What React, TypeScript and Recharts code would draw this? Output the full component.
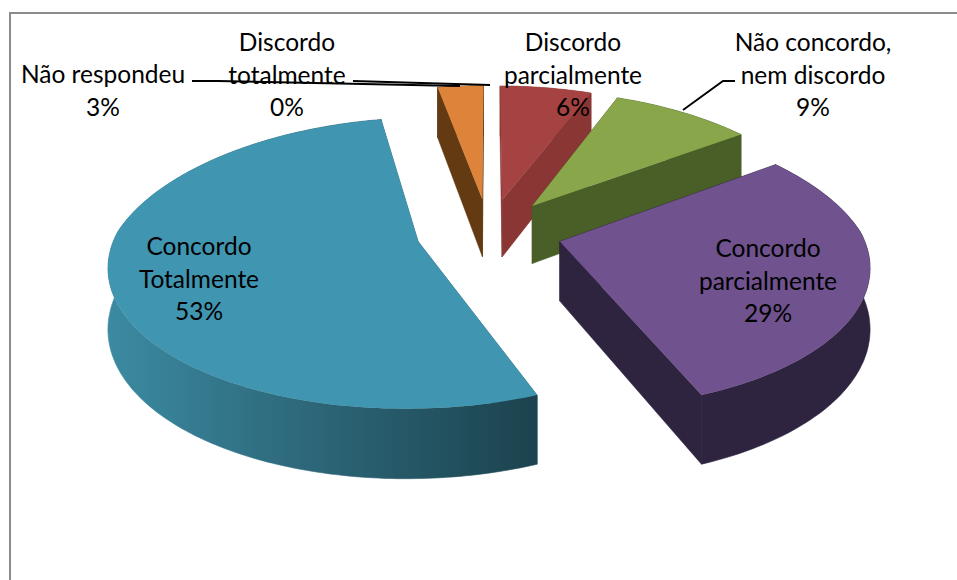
import { PieChart, Pie } from 'recharts';

const categories = [
  'Discordo totalmente',
  'Discordo parcialmente',
  'Não concordo, nem discordo',
  'Concordo parcialmente',
  'Concordo Totalmente',
  'Não respondeu',
];
const percentages = [0, 6, 9, 29, 53, 3];
const topColors = ['#4f81bd', '#a44341', '#8aa64a', '#6f528e', '#4095b0', '#dd843a'];
const sideColors = ['#2f4d71', '#8a3634', '#4a5e27', '#2e2440', '#2f6c7f', '#633a12'];

// where each label sits: centre x, baseline of the first line, and its wrapped lines
const labelLayout = [
  { x: 287, y: 51, lines: ['Discordo', 'totalmente'] },
  { x: 573, y: 51, lines: ['Discordo', 'parcialmente'] },
  { x: 813, y: 51, lines: ['Não concordo,', 'nem discordo'] },
  { x: 768, y: 257, lines: ['Concordo', 'parcialmente'] },
  { x: 199, y: 255, lines: ['Concordo', 'Totalmente'] },
  { x: 103, y: 83, lines: ['Não respondeu'] },
];
const leaderLines = [
  '353,81 490,85',
  '',
  '735,81 723,81 683,110',
  '',
  '',
  '192,81 218,81 460,86',
];

const chartData = categories.map((name, i) => ({ name, value: percentages[i] }));

// ground-plane perspective used for the tilted pie
const CX = 489;
const CY = 232;
const RADIUS = 302;
const EXPLODE = 73;
const DEPTH = 59;
const CAMERA = 2050;
const HORIZON = -715;
const BACK_SQUEEZE = 0.00012;

const rad = (deg: number) => (deg * Math.PI) / 180;

function project(gx: number, gy: number, drop = 0) {
  const s = CAMERA / (CAMERA + gy);
  const narrow = 1 - BACK_SQUEEZE * Math.max(gy, 0);
  return `${(CX + gx * s * narrow).toFixed(1)},${(HORIZON + (CY - HORIZON + drop) * s).toFixed(1)}`;
}

function Slice3D(props: any) {
  const { startAngle, endAngle, outerRadius, index } = props;
  if (Math.abs(startAngle - endAngle) < 0.01) return <g />;
  const mid = rad((startAngle + endAngle) / 2);
  const ox = EXPLODE * Math.cos(mid);
  const oy = EXPLODE * Math.sin(mid);

  const steps = Math.ceil(Math.abs(startAngle - endAngle));
  const angles = Array.from({ length: steps + 1 }, (_, k) =>
    rad(startAngle + ((endAngle - startAngle) * k) / steps)
  );
  const rim = (drop: number) =>
    angles.map((a) => project(ox + outerRadius * Math.cos(a), oy + outerRadius * Math.sin(a), drop));

  const apexTop = project(ox, oy);
  const apexLow = project(ox, oy, DEPTH);
  const top = rim(0);
  const low = rim(DEPTH);
  const last = top.length - 1;
  const isBig = index === 4;
  const side = sideColors[index];
  const rimPaint = isBig ? 'url(#frontWall)' : side;

  return (
    <g>
      {isBig && (
        <defs>
          <linearGradient id="frontWall" gradientUnits="userSpaceOnUse" x1="110" y1="0" x2="532" y2="0">
            <stop offset="0" stopColor="#3b8aa1" />
            <stop offset="0.4" stopColor="#2f6c7f" />
            <stop offset="1" stopColor="#1c434e" />
          </linearGradient>
        </defs>
      )}
      <polygon points={[apexTop, top[0], low[0], apexLow].join(' ')} fill={side} stroke={side} strokeWidth={0.6} />
      <polygon points={[apexTop, top[last], low[last], apexLow].join(' ')} fill={side} stroke={side} strokeWidth={0.6} />
      <polygon points={[...top, ...[...low].reverse()].join(' ')} fill={rimPaint} stroke={rimPaint} strokeWidth={0.6} />
      <polygon points={[apexTop, ...top].join(' ')} fill={topColors[index]} />
    </g>
  );
}

function SliceLabel(props: any) {
  const { index, value } = props;
  const { x, y, lines } = labelLayout[index];
  const rows = [...lines, `${value}%`];
  return (
    <g>
      {leaderLines[index] && (
        <polyline points={leaderLines[index]} fill="none" stroke="#000" strokeWidth={1.9} />
      )}
      <text x={x} y={y} textAnchor="middle" fontFamily="Lato" fontSize={24.5} fill="#000">
        {rows.map((row, k) => (
          <tspan key={k} x={x} dy={k === 0 ? 0 : 32.5}>
            {row}
          </tspan>
        ))}
      </text>
    </g>
  );
}

export default function App() {
  return (
    <div style={{ position: 'absolute', left: 0, top: 0, width: 957, height: 580, background: '#fff', overflow: 'hidden' }}>
      <div
        style={{
          position: 'absolute',
          left: 9,
          top: 12,
          width: 960,
          height: 600,
          borderTop: '2px solid #8c8c8c',
          borderLeft: '2px solid #8c8c8c',
        }}
      />
      <PieChart width={957} height={580} margin={{ top: 0, right: 0, bottom: 0, left: 0 }}>
        <Pie
          data={chartData}
          dataKey="value"
          nameKey="name"
          cx={CX}
          cy={CY}
          innerRadius={0}
          outerRadius={RADIUS}
          startAngle={90}
          endAngle={-270}
          stroke="none"
          isAnimationActive={false}
          shape={Slice3D}
          label={SliceLabel}
          labelLine={false}
        />
      </PieChart>
    </div>
  );
}
